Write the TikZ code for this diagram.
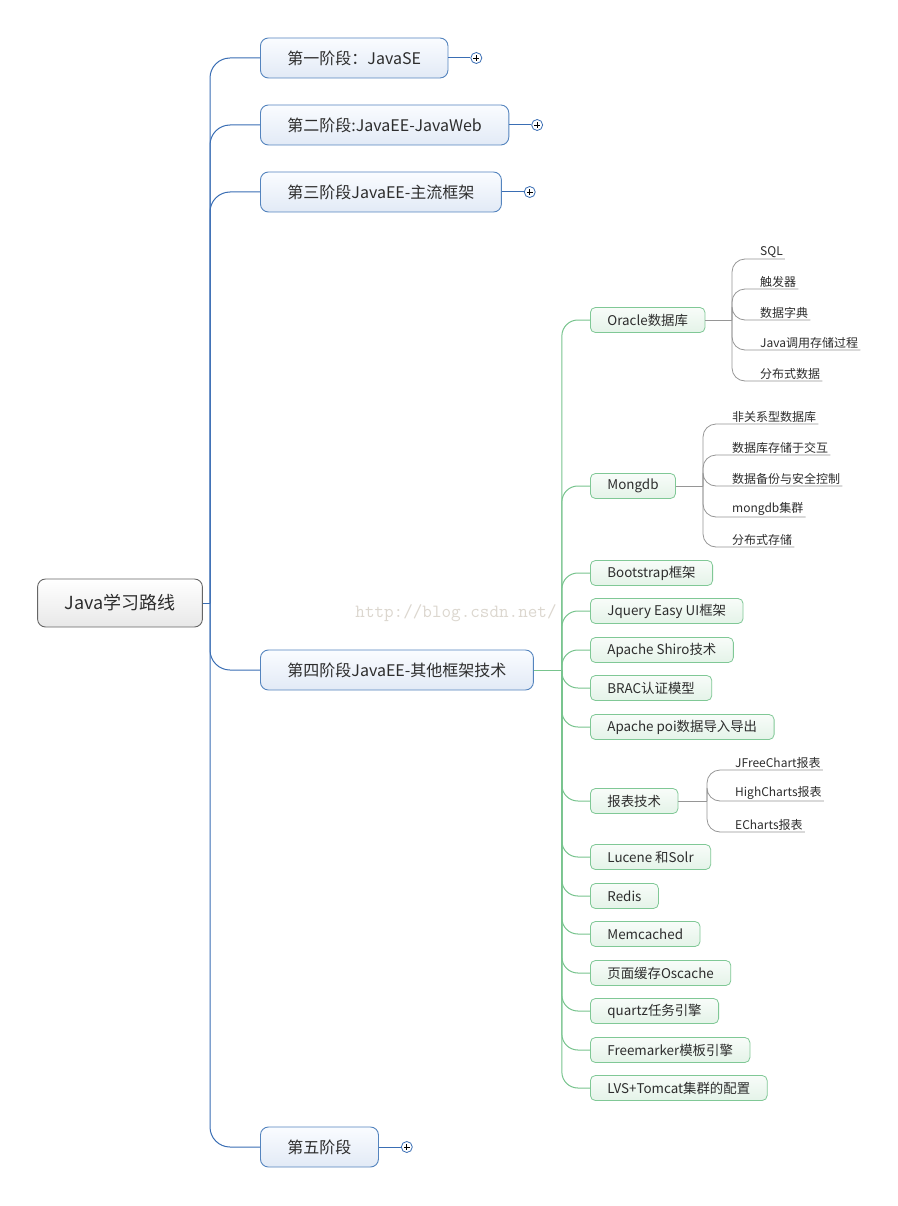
\documentclass[tikz,border=0pt]{standalone}
\usepackage{fontspec}
\setmainfont{Noto Sans CJK SC}
\usetikzlibrary{positioning}

\definecolor{stageblue}{RGB}{84,132,190}
\definecolor{linkblue}{RGB}{58,110,180}
\definecolor{topicgreen}{RGB}{128,200,150}
\definecolor{linkgreen}{RGB}{120,196,142}
\definecolor{leafgray}{RGB}{150,150,150}
\definecolor{inkgray}{RGB}{45,45,45}
\definecolor{markgray}{RGB}{220,215,207}

\tikzset{
  rootbox/.style={draw=black!60, line width=0.9pt, rounded corners=8pt,
    top color=white, bottom color=black!9, text=inkgray,
    inner xsep=27pt, minimum height=48pt, font=\fontsize{18pt}{20pt}\selectfont},
  stagebox/.style={draw=stageblue, line width=0.9pt, rounded corners=8pt,
    top color={rgb,255:red,250;green,252;blue,255}, bottom color={rgb,255:red,226;green,234;blue,246},
    text=inkgray, anchor=west, inner xsep=27pt, minimum height=40pt,
    font=\fontsize{16pt}{18pt}\selectfont},
  topicbox/.style={draw=topicgreen, line width=0.8pt, rounded corners=5pt,
    top color={rgb,255:red,248;green,252;blue,249}, bottom color={rgb,255:red,228;green,243;blue,232},
    text=inkgray, anchor=west, inner xsep=17pt, minimum height=25pt,
    font=\fontsize{13.4pt}{15pt}\selectfont},
  leaf/.style={anchor=south west, inner xsep=2pt, inner ysep=1.5pt, text=inkgray,
    font=\fontsize{12pt}{14pt}\selectfont},
  plusbox/.style={circle, draw=linkblue, line width=0.8pt, fill=white, minimum size=11pt, inner sep=0pt,
    path picture={\draw[black, line width=0.7pt]
      ([xshift=-3pt]path picture bounding box.center) -- ([xshift=3pt]path picture bounding box.center)
      ([yshift=-3pt]path picture bounding box.center) -- ([yshift=3pt]path picture bounding box.center);}},
  stagelink/.style={draw=linkblue, line width=1pt, rounded corners=20pt},
  topiclink/.style={draw=linkgreen, line width=1pt, rounded corners=16pt},
  leaflink/.style={draw=leafgray, line width=0.8pt, rounded corners=13pt},
}

\begin{document}
\begin{tikzpicture}[x=1pt,y=-1pt]
 \useasboundingbox[fill=white] (0,0) rectangle (897,1206);

 % watermark
 \node[font=\ttfamily\fontsize{18.6pt}{20pt}\selectfont, text=markgray] (mark) at (456,613) {http://blog.csdn.net/};

 % root and stages
 \node[rootbox] (root) at (120,603) {Java学习路线};
 \node[stagebox] (s1) at (260,58) {第一阶段：JavaSE};
 \node[stagebox] (s2) at (260,125) {第二阶段:JavaEE-JavaWeb};
 \node[stagebox] (s3) at (260,192) {第三阶段JavaEE-主流框架};
 \node[stagebox] (s4) at (260,670) {第四阶段JavaEE-其他框架技术};
 \node[stagebox] (s5) at (260,1147) {第五阶段};

 \node[plusbox, right=22pt of s1] (p1) {};
 \node[plusbox, right=22pt of s2] (p2) {};
 \node[plusbox, right=22pt of s3] (p3) {};
 \node[plusbox, right=22pt of s5] (p5) {};

 \coordinate (hub) at (210,603);
 \draw[stagelink] (root.east) -- (hub);
 \foreach \n in {s1,s2,s3,s4,s5}
   \draw[stagelink] (hub) |- (\n.west);
 \foreach \n/\p in {s1/p1,s2/p2,s3/p3,s5/p5}
   \draw[stagelink] (\n) -- (\p);

 % topics of stage four
 \node[topicbox] (ora) at (590,320) {Oracle数据库};
 \node[topicbox] (mgo) at (590,486) {Mongdb};
 \node[topicbox] (bts) at (590,573) {Bootstrap框架};
 \node[topicbox] (jqy) at (590,611) {Jquery Easy UI框架};
 \node[topicbox] (shi) at (590,650) {Apache Shiro技术};
 \node[topicbox] (brc) at (590,688) {BRAC认证模型};
 \node[topicbox] (poi) at (590,727) {Apache poi数据导入导出};
 \node[topicbox] (rpt) at (590,801) {报表技术};
 \node[topicbox] (luc) at (590,857) {Lucene 和Solr};
 \node[topicbox] (red) at (590,896) {Redis};
 \node[topicbox] (mem) at (590,934) {Memcached};
 \node[topicbox] (osc) at (590,973) {页面缓存Oscache};
 \node[topicbox] (qtz) at (590,1011) {quartz任务引擎};
 \node[topicbox] (fmk) at (590,1050) {Freemarker模板引擎};
 \node[topicbox] (lvs) at (590,1088) {LVS+Tomcat集群的配置};

 \coordinate[right=28pt of s4.east] (hub4);
 \draw[topiclink] (s4.east) -- (hub4);
 \foreach \n in {ora,mgo,bts,jqy,shi,brc,poi,rpt,luc,red,mem,osc,qtz,fmk,lvs}
   \draw[topiclink] (hub4) |- (\n.west);

 % leaves
 \foreach \y/\n/\t in {259/o1/SQL, 289/o2/触发器, 320/o3/数据字典, 350/o4/Java调用存储过程, 381/o5/分布式数据}
   \node[leaf] (\n) at (758,\y) {\t};
 \foreach \y/\n/\t in {424/m1/非关系型数据库, 455/m2/数据库存储于交互, 486/m3/数据备份与安全控制, 517/m4/mongdb集群, 547/m5/分布式存储}
   \node[leaf] (\n) at (730,\y) {\t};
 \foreach \y/\n/\t in {770/r1/JFreeChart报表, 801/r2/HighCharts报表, 832/r3/ECharts报表}
   \node[leaf] (\n) at (733,\y) {\t};

 \coordinate (orahub) at (732,320);
 \coordinate (mgohub) at (703,486);
 \coordinate (rpthub) at (707,801);
 \draw[leaflink] (ora.east) -- (orahub);
 \draw[leaflink] (mgo.east) -- (mgohub);
 \draw[leaflink] (rpt.east) -- (rpthub);
 \foreach \n in {o1,o2,o3,o4,o5}
   \draw[leaflink] (orahub) |- (\n.south east);
 \foreach \n in {m1,m2,m3,m4,m5}
   \draw[leaflink] (mgohub) |- (\n.south east);
 \foreach \n in {r1,r2,r3}
   \draw[leaflink] (rpthub) |- (\n.south east);
\end{tikzpicture}
\end{document}
